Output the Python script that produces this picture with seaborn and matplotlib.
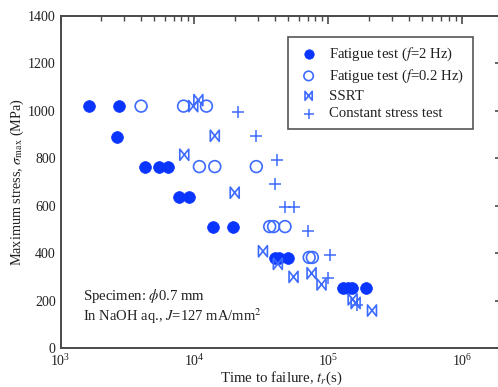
import numpy as np
import pandas as pd
import matplotlib
matplotlib.use("Agg")
import matplotlib.pyplot as plt
from matplotlib.path import Path
import seaborn as sns

# ---- data ----
f2_t = [1630, 2750, 2650, 4250, 5450, 6350, 7700, 9050, 13700, 19400,
        40000, 42500, 50000, 128000, 140000, 150000, 190000]
f2_s = [1020, 1020, 890, 765, 765, 765, 638, 638, 510, 510,
        380, 380, 380, 255, 255, 255, 255]

f02_t = [4000, 8300, 12300, 10900, 14200, 29000, 36500, 39000, 47500, 72000, 76000]
f02_s = [1020, 1020, 1020, 765, 765, 765, 512, 512, 512, 382, 382]

ssrt_t = [9800, 10700, 14200, 8400, 20000, 32500, 42000, 55000, 75000, 89000,
          152000, 160000, 212000]
ssrt_s = [1020, 1045, 895, 815, 655, 408, 355, 300, 315, 268, 205, 190, 158]

const_t = [21000, 29000, 41700, 39800, 47300, 55300, 70200, 103000, 100000, 164000]
const_s = [995, 893, 793, 693, 593, 593, 493, 393, 295, 183]

labels = ["Fatigue test ($f$=2 Hz)", "Fatigue test ($f$=0.2 Hz)", "SSRT",
          "Constant stress test"]
yticks = [0, 200, 400, 600, 800, 1000, 1200, 1400]

# ---- style ----
sns.set_theme(style="white")
plt.rcParams["font.family"] = ["Liberation Serif", "DejaVu Serif"]
plt.rcParams["mathtext.fontset"] = "stix"

fig = plt.figure(figsize=(4.98, 3.87), dpi=100)
ax = fig.add_axes([60.5 / 498, 39 / 387, 442 / 498, 332 / 387])

c_fill = "#0a35ff"
c_open = "#3d6bff"

bowtie = Path([(-0.8, 1.0), (-0.8, -1.0), (0.8, 1.0), (0.8, -1.0), (-0.8, 1.0)],
              [Path.MOVETO, Path.LINETO, Path.LINETO, Path.LINETO, Path.CLOSEPOLY])

sns.scatterplot(x=f2_t, y=f2_s, ax=ax, marker="o", s=72, color=c_fill,
                edgecolor=c_fill, linewidth=0.5, label=labels[0], zorder=3)
sns.scatterplot(x=f02_t, y=f02_s, ax=ax, marker="o", s=72, facecolor="none",
                edgecolor=c_open, linewidth=1.2, label=labels[1], zorder=3)
sns.scatterplot(x=ssrt_t, y=ssrt_s, ax=ax, marker=bowtie, s=65, facecolor="none",
                edgecolor=c_open, linewidth=1.2, label=labels[2], zorder=3)
sns.scatterplot(x=const_t, y=const_s, ax=ax, marker="+", s=85, color=c_open,
                linewidth=1.1, label=labels[3], zorder=3)

ax.set_xscale("log")
ax.set_xlim(1e3, 2e6)
ax.set_ylim(0, 1400)
ax.set_yticks(yticks)
ax.set_yticklabels([str(v) for v in yticks])

spine_c = "#4a4a4a"
for sp in ax.spines.values():
    sp.set_color(spine_c)
    sp.set_linewidth(1.4)
ax.tick_params(which="both", direction="in", top=True, right=True,
               colors=spine_c, labelcolor="#222222", labelsize=10)
ax.tick_params(which="major", length=6, width=1.2)
ax.tick_params(which="minor", length=3.5, width=1.0)
ax.tick_params(axis="y", which="minor", left=False, right=False)

ax.set_xlabel("Time to failure, $t_r$(s)", fontsize=10.7, color="#222222", labelpad=1)
ax.set_ylabel("Maximum stress, $\\sigma_{\\rm max}$ (MPa)", fontsize=10.3,
              color="#222222", labelpad=1)

ax.text(0.05, 0.145, "Specimen: $\\phi$0.7 mm", transform=ax.transAxes,
        fontsize=10.6, color="#222222")
ax.text(0.05, 0.08, "In NaOH aq., $J$=127 mA/mm$^2$", transform=ax.transAxes,
        fontsize=10.5, color="#222222")

leg = ax.legend(loc="upper left", bbox_to_anchor=((288 - 60.5) / 442, 1 - (37 - 16) / 332),
                borderaxespad=0.0,
                fontsize=10.6, frameon=True, fancybox=False, framealpha=1,
                edgecolor="#555555", borderpad=0.6, labelspacing=0.3,
                handletextpad=0.6, handlelength=1.6, markerscale=0.8)
leg.get_frame().set_linewidth(1.2)
for t in leg.get_texts():
    t.set_color("#222222")

fig.savefig("out.png", dpi=100)
